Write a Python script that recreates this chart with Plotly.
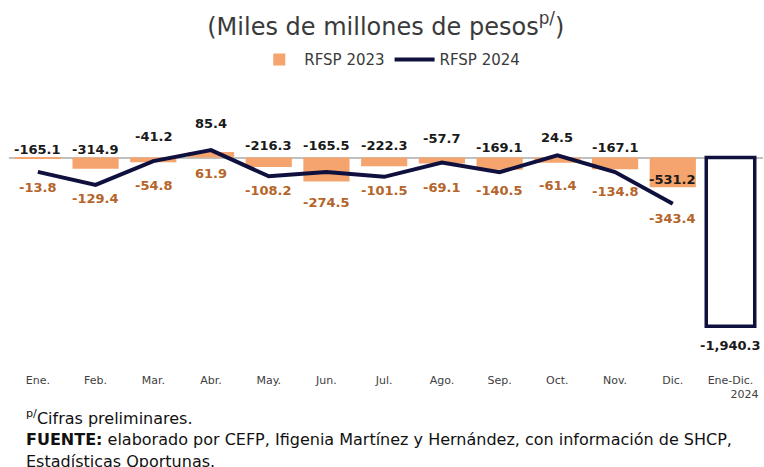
import plotly.graph_objects as go

# ---- data ----
months = ["Ene.", "Feb.", "Mar.", "Abr.", "May.", "Jun.", "Jul.", "Ago.", "Sep.", "Oct.", "Nov.", "Dic."]
total_label = "Ene-Dic.<br>\u00a0\u00a0\u00a0\u00a0\u00a0\u00a0\u00a0\u00a02024"
rfsp_2023 = [-13.8, -129.4, -54.8, 61.9, -108.2, -274.5, -101.5, -69.1, -140.5, -61.4, -134.8, -343.4]
rfsp_2024 = [-165.1, -314.9, -41.2, 85.4, -216.3, -165.5, -222.3, -57.7, -169.1, 24.5, -167.1, -531.2]
total_2024 = [-1940.3]

# ---- label placement (pixel offsets from the zero line) ----
shift_2024 = [8, 8, 21, 34, 12, 12, 12, 19, 10, 20, 10, -22]
shift_2023 = [-30, -41, -28, -16, -33, -45, -33, -30, -33, -28, -34, -61]

ORANGE = "#F4A46C"
ORANGE_TXT = "#B5652A"
NAVY = "#10103F"
FONT = "DejaVu Sans"

fig = go.Figure()
fig.add_trace(go.Bar(
    x=months, y=rfsp_2023, name="RFSP 2023",
    marker=dict(color=ORANGE, line=dict(width=0)), width=0.8,
))
fig.add_trace(go.Bar(
    x=[total_label], y=total_2024, name="Total 2024", showlegend=False,
    marker=dict(color="white", line=dict(color=NAVY, width=3.5)), width=0.84,
))
fig.add_trace(go.Scatter(
    x=months, y=rfsp_2024, name="RFSP 2024", mode="lines",
    line=dict(color=NAVY, width=4),
))

def fmt(v):
    return f"{v:,.1f}"

for m, v, s in zip(months, rfsp_2024, shift_2024):
    fig.add_annotation(x=m, y=0, text=f"<b>{fmt(v)}</b>", showarrow=False, yshift=s,
                       yanchor="middle", font=dict(family=FONT, size=13, color="#1a1a1a"))
for m, v, s in zip(months, rfsp_2023, shift_2023):
    fig.add_annotation(x=m, y=0, text=f"<b>{fmt(v)}</b>", showarrow=False, yshift=s,
                       yanchor="middle", font=dict(family=FONT, size=13, color=ORANGE_TXT))
fig.add_annotation(x=total_label, y=total_2024[0], text=f"<b>{fmt(total_2024[0])}</b>", showarrow=False,
                   yshift=-19, yanchor="middle", font=dict(family=FONT, size=13, color="#1a1a1a"))

# footer
foot_font = dict(family=FONT, size=16, color="#111111")
fig.add_annotation(xref="paper", yref="paper", x=0, xshift=15, y=-0.160, xanchor="left", yanchor="middle",
                   text="<sup>p/</sup>Cifras preliminares.", showarrow=False, align="left", font=foot_font)
fig.add_annotation(xref="paper", yref="paper", x=0, xshift=15, y=-0.238, xanchor="left", yanchor="middle",
                   text="<b>FUENTE:</b> elaborado por CEFP, Ifigenia Martínez y Hernández, con información de SHCP,",
                   showarrow=False, align="left", font=foot_font)
fig.add_annotation(xref="paper", yref="paper", x=0, xshift=15, y=-0.316, xanchor="left", yanchor="middle",
                   text="Estadísticas Oportunas.", showarrow=False, align="left", font=foot_font)

fig.update_layout(
    width=764, height=467,
    margin=dict(l=9, r=1, t=90, b=95, autoexpand=False),
    paper_bgcolor="white", plot_bgcolor="white",
    barmode="overlay",
    title=dict(text="(Miles de millones de pesos<sup>p/</sup>)", x=0.505, xanchor="center",
               y=0.944, yanchor="middle", font=dict(family=FONT, size=24, color="#3a3a3a")),
    legend=dict(orientation="h", x=0.505, xanchor="center", y=1.107, yanchor="middle",
                font=dict(family=FONT, size=15, color="#3a3a3a"), itemwidth=40),
    xaxis=dict(showgrid=False, showline=False, ticks="", automargin=False,
               tickfont=dict(family=FONT, size=11, color="#404040"),
               categoryorder="array", categoryarray=months + [total_label]),
    yaxis=dict(range=[-2466, 776], showgrid=False, showticklabels=False, zeroline=True, automargin=False,
               zerolinecolor="#c0c0c0", zerolinewidth=1.5),
    showlegend=True,
)

fig.write_html("out.html", config={"displayModeBar": False},
               post_script="document.body.style.margin='0';document.body.style.overflow='hidden';")
